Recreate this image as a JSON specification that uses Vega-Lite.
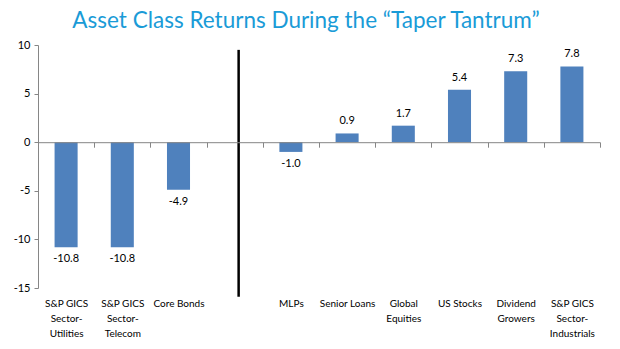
{
  "$schema": "https://vega.github.io/schema/vega-lite/v6.json",
  "width": 562,
  "height": 243,
  "autosize": {"type": "none"},
  "padding": {"left": 38, "top": 45, "right": 20, "bottom": 61},
  "background": "white",
  "title": {
    "text": "Asset Class Returns During the “Taper Tantrum”",
    "font": "Lato",
    "fontSize": 22.5,
    "fontWeight": "normal",
    "color": "#1a9bd7",
    "anchor": "middle",
    "offset": 7,
    "dx": -13
  },
  "config": {
    "view": {"stroke": null},
    "locale": {"number": {"decimal": ".", "thousands": ",", "grouping": [3], "currency": ["$", ""], "minus": "-"}}
  },
  "datasets": {
    "bars": [
      {"cat": "S&P GICS|Sector-|Utilities", "value": -10.8},
      {"cat": "S&P GICS|Sector-|Telecom", "value": -10.8},
      {"cat": "Core Bonds", "value": -4.9},
      {"cat": "MLPs", "value": -1.0},
      {"cat": "Senior Loans", "value": 0.9},
      {"cat": "Global|Equities", "value": 1.7},
      {"cat": "US Stocks", "value": 5.4},
      {"cat": "Dividend|Growers", "value": 7.3},
      {"cat": "S&P GICS|Sector-|Industrials", "value": 7.8}
    ],
    "divider": [{"cat": "gap", "top": 9.5, "bottom": -15.9}]
  },
  "encoding": {
    "x": {
      "field": "cat",
      "type": "nominal",
      "sort": null,
      "title": null,
      "scale": {
        "domain": ["S&P GICS|Sector-|Utilities", "S&P GICS|Sector-|Telecom", "Core Bonds", "gap", "MLPs", "Senior Loans", "Global|Equities", "US Stocks", "Dividend|Growers", "S&P GICS|Sector-|Industrials"],
        "padding": 0
      },
      "axis": {
        "orient": "bottom",
        "offset": -145.8,
        "labelExpr": "isString(datum.value) && datum.value != 'gap' ? split(datum.value, '|') : ''",
        "labelAngle": 0,
        "labelPadding": 151,
        "labelBaseline": "top",
        "labelLineHeight": 15,
        "labelFont": "Lato",
        "labelFontSize": 10,
        "labelColor": "#000000",
        "tickBand": "extent",
        "tickSize": 5,
        "tickColor": "#868686",
        "domainColor": "#868686",
        "grid": false,
        "zindex": 1
      }
    }
  },
  "layer": [
    {
      "data": {"name": "bars"},
      "mark": {"type": "bar", "color": "#4f81bd", "width": {"band": 0.41}},
      "encoding": {
        "y": {
          "field": "value",
          "type": "quantitative",
          "title": null,
          "scale": {"domain": [-15, 10], "nice": false, "zero": false},
          "axis": {
            "values": [-15, -10, -5, 0, 5, 10],
            "grid": false,
            "tickSize": 4,
            "tickColor": "#868686",
            "domainColor": "#868686",
            "labelFont": "Lato",
            "labelFontSize": 11,
            "labelColor": "#000000",
            "labelPadding": 4
          }
        }
      }
    },
    {
      "data": {"name": "bars"},
      "transform": [{"filter": "datum.value >= 0"}],
      "mark": {"type": "text", "baseline": "middle", "dy": -12, "font": "Lato", "fontSize": 11, "color": "#000000"},
      "encoding": {
        "y": {"field": "value", "type": "quantitative"},
        "text": {"field": "value", "type": "quantitative", "format": ".1f"}
      }
    },
    {
      "data": {"name": "bars"},
      "transform": [{"filter": "datum.value < 0"}],
      "mark": {"type": "text", "baseline": "middle", "dy": 12, "font": "Lato", "fontSize": 11, "color": "#000000"},
      "encoding": {
        "y": {"field": "value", "type": "quantitative"},
        "text": {"field": "value", "type": "quantitative", "format": ".1f"}
      }
    },
    {
      "data": {"name": "divider"},
      "mark": {"type": "rule", "color": "#000000", "strokeWidth": 2.5},
      "encoding": {
        "x": {"field": "cat", "type": "nominal", "bandPosition": 0.57},
        "y": {"field": "top", "type": "quantitative"},
        "y2": {"field": "bottom"}
      }
    }
  ]
}
